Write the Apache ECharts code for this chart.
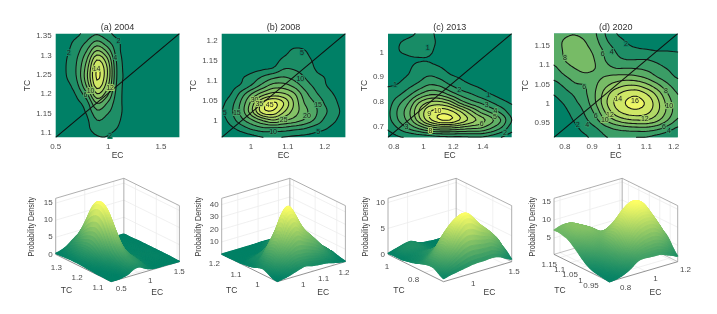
<!DOCTYPE html>
<html><head><meta charset="utf-8">
<style>html,body{margin:0;padding:0;background:#fff}#c{width:717px;height:314px}#c canvas{filter:blur(.45px)}</style>
<script src="https://cdn.jsdelivr.net/npm/echarts@6/dist/echarts.min.js"></script>
</head><body><div id="c"></div>
<script>
// ---- values ----
const titles=['(a) 2004','(b) 2008','(c) 2013','(d) 2020'];
const ecExtentA=[0.5,1.675], tcExtentA=[1.089,1.356];
const ecExtentB=[0.921,1.256], tcExtentB=[0.96,1.217];
const ecExtentC=[0.76,1.594], tcExtentC=[0.658,1.075];
const ecExtentD=[0.76,1.215], tcExtentD=[0.914,1.18];
const ecTicksA=[0.5,1,1.5], tcTicksA=[1.1,1.15,1.2,1.25,1.3,1.35];
const ecTicksB=[1,1.1,1.2], tcTicksB=[1,1.05,1.1,1.15,1.2];
const ecTicksC=[0.8,1,1.2,1.4], tcTicksC=[0.7,0.8,0.9,1];
const ecTicksD=[0.8,0.9,1,1.1,1.2], tcTicksD=[0.95,1,1.05,1.1,1.15];
const levelsA=[2,4,6,8,10,12,14,16];
const levelsB=[5,10,15,20,25,30,35,40,45];
const levelsC=[1,2,3,4,5,6,7,8,9,10];
const levelsD=[2,4,6,8,10,12,14,16];
// density: rows run from highest TC to lowest TC, columns from lowest EC to highest EC
const densityA=[
[.3,.7,1.5,2.8,3.8,2.6,1.3,.6,.3,.3,.2,.1,.1],
[.4,1.2,2.6,4.2,6.6,4.6,2.4,.9,.4,.3,.3,.2,.1],
[.5,1.6,3.2,6,10.2,7.5,2.7,1.1,.5,.3,.3,.2,.1],
[.6,1.9,3.8,7.8,13.9,10.5,3.2,1.3,.5,.4,.3,.3,.2],
[.6,2,4.1,9,16,12,3.5,1.4,.6,.4,.4,.3,.2],
[.6,1.9,4,9.4,16.3,12,3.5,1.5,.6,.4,.4,.3,.2],
[.5,1.4,3.2,8.2,15,10.8,3.2,1.5,.6,.4,.4,.4,.2],
[.4,1,2.2,5.5,11.8,8.6,2.9,1.5,.6,.5,.5,.4,.2],
[.3,.6,1.5,3.2,8.2,6,2.7,1.4,.6,.5,.5,.4,.2],
[.2,.4,1,2.3,5.6,4.4,2.7,1.2,.5,.4,.5,.4,.2],
[.2,.3,.6,1.6,4,3.4,2.4,.9,.4,.4,.4,.3,.2],
[.1,.2,.4,1.4,3.1,2.8,1.9,.6,.3,.3,.3,.2,.1],
[.1,.1,.3,.8,1.8,1.9,1,.4,.2,.2,.2,.1,.1]];
const densityB=[
[.2,.2,.2,.2,.3,.3,.4,.6,.5,.3,.2,.2,.2],
[.2,.3,.3,.3,.4,.6,1.2,2.5,2,.6,.3,.2,.2],
[.3,.4,.5,.5,.7,1.2,3,6,5.5,1.8,.6,.3,.2],
[.4,.5,.7,.8,1.2,2.5,6,7.5,7,4,1.5,.5,.2],
[.5,1,2,3,4,5.3,9.5,9.5,8,5,2.5,.8,.3],
[1,3,4.6,7,10.5,13.5,15,13,10,6.5,4.8,1.5,.5],
[1.5,3.5,6,11,17,22,22,18.5,13,9,5.5,3,.8],
[2.5,5.5,13,21,28,32,31,26,17.5,11.5,7.5,4.5,1.2],
[4,8.5,17,28,41,46,40,29.5,20,15,9.5,6,1.8],
[4.7,9.5,18,30,43,44,36,28,22,16.5,11,7,3],
[3,8,14,20,26,30,26,23,19.5,14.5,9,5.5,2],
[1,4,7.5,11,13.5,13.5,13,11.5,10,7.5,5.5,3,1],
[.3,1,2,3.5,5,6,4.8,4.2,3.8,3.2,2,1,.4]];
const densityC=[
[.2,.5,.8,1.1,1.2,.7,.3,.2,.1,.1,.1,.1,.1],
[.3,.9,1.2,1.3,1.25,.8,.4,.2,.1,.1,.1,.1,.1],
[.3,.95,1.2,1.3,1.15,.7,.4,.2,.2,.1,.1,.1,.1],
[.3,.6,.85,.95,.95,.7,.45,.3,.2,.1,.1,.1,.1],
[.5,.7,.9,1.3,1.3,1.1,.7,.5,.3,.2,.1,.1,.1],
[.7,.8,1.1,1.6,2.1,1.8,1.2,.9,.6,.4,.2,.1,.1],
[.95,1.1,1.7,2.4,3.1,2.9,2.1,1.5,1.1,.8,.5,.3,.1],
[1.3,1.8,2.7,3.9,4.8,4.7,3.7,2.7,2.1,1.5,1,.6,.3],
[1.6,2.7,4,6,7.2,7.4,6.6,4.8,3.6,2.9,2.1,1.4,.9],
[1.8,3.2,4.7,7,8.8,9.6,9.3,8,6.3,4.7,3.7,2.6,1.5],
[1.7,3,4.4,6.5,8.6,9.9,10,8.9,7.6,6.5,5.3,3.9,2],
[1.1,2,3,4,5,5.6,5.6,5.3,5,4.8,3.9,2.8,1.4],
[.6,.9,1.1,1.3,1.5,1.7,1.8,1.8,1.9,1.9,1.6,1,.5]];
const densityD=[
[7.2,7.7,7.9,7.4,6.2,3.9,2.1,1.5,1.2,1.1,1.1,1,1],
[7.3,8.2,8.8,8.1,6.7,4.5,3,2,1.5,1.5,1.5,1.5,1.5],
[7,8.2,8.9,8.5,7.5,5.5,3.9,2.8,2.4,2.2,2,2,1.9],
[6.6,8,8.8,8.6,7.9,5.9,4.6,4,4,4,3.5,3,2.9],
[5.6,7,8,8.5,8,6.8,6,6,5.9,5.5,4.7,3.9,3.3],
[4.5,5.7,6.8,7.4,7.5,8.1,8.6,8.7,8.4,7.5,6,4.8,3.8],
[3.2,4.3,5.6,6,7.7,9.6,11,12,12,10.7,8.7,6.5,5],
[2.1,3.2,4.3,5.6,8,11,13.5,15,15.5,14,11.4,8.2,6],
[1.4,2.2,3.6,5,7.8,11.5,14.5,16.1,16.6,15.6,12.7,9.3,6.6],
[1,1.6,2.8,4.3,6.6,10.3,13.3,15,15.5,14.7,12.4,9.5,6.8],
[.8,1.2,2.2,3.6,5.3,8,10.2,11.5,12,11.9,10.5,8.1,5.7],
[.6,.9,1.5,2.7,3.7,5.2,6.3,6.9,7.2,7.2,6.5,5,3.6],
[.4,.6,1,1.7,2.7,3.9,4.2,4.1,4,3.9,3.3,2.7,2]];
// contour labels: [EC, TC, text]
const labelsA=[[.624,1.305,'2'],[1.096,1.338,'2'],[1.064,1.292,'4'],[1.016,1.092,'2'],[.783,1.198,'6'],[.831,1.209,'10'],[1.016,1.215,'12'],[.888,1.264,'14']];
const labelsB=[[.929,1.021,'5'],[1.138,1.17,'5'],[1.134,1.104,'10'],[1.182,1.04,'15'],[1.152,1.012,'20'],[1.089,1.003,'25'],[1.06,.974,'10'],[1.182,.974,'5'],[1.051,1.04,'45'],[1.01,1.053,'30'],[.962,1.02,'15'],[1.023,1.043,'35']];
const labelsC=[[1.027,1.016,'1'],[.807,.869,'1'],[1.24,.849,'2'],[1.436,.826,'1'],[1.425,.788,'3'],[1.485,.764,'4'],[1.481,.739,'5'],[1.391,.711,'6'],[1.094,.764,'10'],[1.038,.752,'9'],[1.548,.677,'2'],[1.047,.684,'8'],[.885,.701,'3']];
const labelsD=[[.8,1.117,'8'],[.871,1.042,'6'],[.939,1.128,'6'],[.972,1.134,'4'],[1.025,1.153,'2'],[.996,1.013,'14'],[1.058,1.006,'16'],[1.172,1.034,'8'],[1.184,.995,'10'],[1.094,.962,'12'],[.966,.972,'12'],[.947,.957,'10'],[.913,.968,'6'],[.882,.946,'4'],[.847,.946,'2'],[1.164,.94,'6'],[1.183,.929,'4']];
// 3D panels
const zTicksA=[0,5,10,15], zExtentA=[0,16.4], ecTicks3A=[.5,1,1.5], tcTicks3A=[1.1,1.2,1.3];
const zTicksB=[10,20,30,40], zExtentB=[0,45], ecTicks3B=[1,1.1,1.2], tcTicks3B=[1,1.1,1.2];
const zTicksC=[0,5,10], zExtentC=[0,10.8], ecTicks3C=[1,1.5], tcTicks3C=[.8,1];
const zTicksD=[5,10,15], zExtentD=[.45,16], ecTicks3D=[.8,1,1.2], tcTicks3D=[.95,1,1.05,1.1,1.15];

const FONT='"Liberation Sans",Arial,sans-serif';
const TICK='#4d4d4d', NAME='#3a3a3a';
const panels=[
 {t:titles[0],ec:ecExtentA,tc:tcExtentA,ect:ecTicksA,tct:tcTicksA,z:densityA,lv:levelsA,lab:labelsA,zt:zTicksA,ze:zExtentA,e3:ecTicks3A,t3:tcTicks3A,left:55.7,nameGap:26.4,p:32,tn:10.7},
 {t:titles[1],ec:ecExtentB,tc:tcExtentB,ect:ecTicksB,tct:tcTicksB,z:densityB,lv:levelsB,lab:labelsB,zt:zTicksB,ze:zExtentB,e3:ecTicks3B,t3:tcTicks3B,left:221.7,nameGap:26.7,p:199,tn:10},
 {t:titles[2],ec:ecExtentC,tc:tcExtentC,ect:ecTicksC,tct:tcTicksC,z:densityC,lv:levelsC,lab:labelsC,zt:zTicksC,ze:zExtentC,e3:ecTicks3C,t3:tcTicks3C,left:388,nameGap:23,p:366,tn:11},
 {t:titles[3],ec:ecExtentD,tc:tcExtentD,ect:ecTicksD,tct:tcTicksD,z:densityD,lv:levelsD,lab:labelsD,zt:zTicksD,ze:zExtentD,e3:ecTicks3D,t3:tcTicks3D,left:554,nameGap:28,p:532.7,tn:6}
];
const W=123.7;
function summer(t){t=Math.max(0,Math.min(1,t));return 'rgb('+Math.round(255*t)+','+Math.round(255*(.5+.5*t))+',102)';}
function cr(a,b,c,d,t){return b+.5*t*(c-a+t*(2*a-5*b+4*c-d+t*(3*(b-c)+d-a)));}
// display refinement of the read grid so that the drawn curves are smooth
function refine(g,f){
 const R=g.length,C=g[0].length,out=[];
 const at=(r,c)=>g[Math.max(0,Math.min(R-1,r))][Math.max(0,Math.min(C-1,c))];
 for(let r=0;r<=(R-1)*f;r++){const row=[];const ri=Math.min(R-2,Math.floor(r/f)),rt=r/f-ri;
  for(let c=0;c<=(C-1)*f;c++){const ci=Math.min(C-2,Math.floor(c/f)),ct=c/f-ci;const v=[];
   for(let k=-1;k<=2;k++)v.push(cr(at(ri+k,ci-1),at(ri+k,ci),at(ri+k,ci+1),at(ri+k,ci+2),ct));
   row.push(Math.max(0,cr(v[0],v[1],v[2],v[3],rt)));}
  out.push(row);}
 return out;}
const num=v=>v.toFixed(2);
function contourItem(p){return function(params,api){
 const G=refine(p.z,4),R=G.length,C=G[0].length;
 const co=(c,r)=>api.coord([p.ec[0]+c/(C-1)*(p.ec[1]-p.ec[0]),p.tc[1]-r/(R-1)*(p.tc[1]-p.tc[0])]);
 const P=[];for(let r=0;r<R;r++){P.push([]);for(let c=0;c<C;c++)P[r].push(co(c,r));}
 const n=p.lv.length,kids=[];
 const a=P[0][0],b=P[R-1][C-1];
 kids.push({type:'rect',shape:{x:a[0],y:a[1],width:b[0]-a[0],height:b[1]-a[1]},style:{fill:summer(0)}});
 const lines=[];
 p.lv.forEach((L,i)=>{let d='',ln='';
  for(let r=0;r<R-1;r++)for(let c=0;c<C-1;c++){
   const q=[[c,r],[c+1,r],[c+1,r+1],[c,r+1]],poly=[],x=[];
   for(let k=0;k<4;k++){const s=q[k],e=q[(k+1)%4],zs=G[s[1]][s[0]],ze=G[e[1]][e[0]],ps=P[s[1]][s[0]],pe=P[e[1]][e[0]];
    if(zs>=L)poly.push(ps);
    if((zs>=L)!==(ze>=L)){const t=(L-zs)/(ze-zs),m=[ps[0]+t*(pe[0]-ps[0]),ps[1]+t*(pe[1]-ps[1])];poly.push(m);x.push(m);}}
   if(poly.length>=3){d+='M'+poly.map(m=>num(m[0])+' '+num(m[1])).join('L')+'Z';}
   for(let k=0;k+1<x.length;k+=2)ln+='M'+num(x[k][0])+' '+num(x[k][1])+'L'+num(x[k+1][0])+' '+num(x[k+1][1]);
  }
  if(d)kids.push({type:'path',shape:{pathData:d},style:{fill:summer((i+1)/(n+.6))}});
  if(ln)lines.push({type:'path',shape:{pathData:ln},style:{fill:'none',stroke:'#141414',lineWidth:1.05,lineCap:'round'}});
 });
 return {type:'group',children:kids.concat(lines)};
};}
function labelItem(p){return function(params,api){
 const kids=p.lab.map(l=>{const q=api.coord([l[0],l[1]]);const idx=p.lv.indexOf(+l[2]);
  return {type:'text',x:q[0],y:q[1],style:{text:l[2],align:'center',verticalAlign:'middle',textAlign:'center',textVerticalAlign:'middle',font:'7px '+FONT,fill:'#222',stroke:summer((idx+.5)/(p.lv.length+.6)),lineWidth:2}};});
 return {type:'group',children:kids};
};}
// normalised projection of the box on its hidden grid
const Fx=.449,Lfy=.2645,Rfy=.1935,Zh=.542;
function surfaceFns(p){
 const u=e=>(e-p.ec[0])/(p.ec[1]-p.ec[0]),v=t=>(t-p.tc[0])/(p.tc[1]-p.tc[0]);
 const pr=(uu,vv,zz)=>[Fx+uu*(1-Fx)-vv*Fx,uu*Rfy+vv*Lfy+zz*Zh];
 const zf=z=>(z-p.ze[0])/(p.ze[1]-p.ze[0]);
 return {u,v,pr,zf};}
function boxItem(p){return function(params,api){
 const {u,v,pr,zf}=surfaceFns(p);const pt=(a,b,c)=>api.coord(pr(a,b,c));
 const kids=[];
 const line=(A,B,col,w)=>kids.push({type:'line',shape:{x1:A[0],y1:A[1],x2:B[0],y2:B[1]},style:{stroke:col,lineWidth:w}});
 const GR='#ececec';
 p.e3.forEach(e=>{const a=u(e);line(pt(a,0,0),pt(a,1,0),GR,.8);line(pt(a,1,0),pt(a,1,1),GR,.8);});
 p.t3.forEach(t=>{const b=v(t);line(pt(0,b,0),pt(1,b,0),GR,.8);line(pt(1,b,0),pt(1,b,1),GR,.8);});
 p.zt.forEach(z=>{const c=zf(z);line(pt(0,1,c),pt(1,1,c),GR,.8);line(pt(1,1,c),pt(1,0,c),GR,.8);});
 const ED='#9a9a9a';
 line(pt(0,1,1),pt(1,1,1),ED,.8);line(pt(1,1,1),pt(1,0,1),ED,.8);
 line(pt(0,1,0),pt(0,1,1),ED,.8);line(pt(1,1,0),pt(1,1,1),ED,.8);line(pt(1,0,0),pt(1,0,1),ED,.8);
 line(pt(0,1,0),pt(1,1,0),ED,.6);line(pt(1,1,0),pt(1,0,0),ED,.6);
 line(pt(0,1,0),pt(0,0,0),'#777',.8);line(pt(0,0,0),pt(1,0,0),'#777',.8);
 return {type:'group',children:kids};
};}
function surfaceItem(p){return function(params,api){
 const {pr,zf}=surfaceFns(p);
 const G=refine(p.z,5),R=G.length,C=G[0].length,kids=[];let zm=0;G.forEach(r=>r.forEach(z=>{if(z>zm)zm=z;}));
 const pt=(c,r)=>api.coord(pr(c/(C-1),1-r/(R-1),zf(G[r][c])));
 for(let c=C-2;c>=0;c--)for(let r=0;r<R-1;r++){
  const col=summer((G[r][c]+G[r][c+1]+G[r+1][c]+G[r+1][c+1])/4/zm);
  kids.push({type:'polygon',shape:{points:[pt(c,r),pt(c+1,r),pt(c+1,r+1),pt(c,r+1)]},style:{fill:col,stroke:col,lineWidth:1.2,lineJoin:'round'}});}
 return {type:'group',children:kids};
};}
function textItem(p){return function(params,api){
 const {u,v,pr,zf}=surfaceFns(p);const pt=(a,b,c)=>api.coord(pr(a,b,c));
 const kids=[];
 const txt=(x,y,s,o)=>kids.push(Object.assign({type:'text',x,y,style:{text:s,align:'center',verticalAlign:'middle',textAlign:'center',textVerticalAlign:'middle',font:'8px '+FONT,fill:TICK}},o||{}));
 p.e3.forEach(e=>{const q=pt(u(e),0,0);txt(q[0]+10,q[1]+7.5,String(e));});
 p.t3.forEach(t=>{const q=pt(0,v(t),0);txt(q[0]-11,q[1]+7.5,String(t));});
 p.zt.forEach(z=>{const q=pt(0,1,zf(z));kids.push({type:'text',x:q[0]-3,y:q[1],style:{text:String(z),align:'right',verticalAlign:'middle',textAlign:'right',textVerticalAlign:'middle',font:'8px '+FONT,fill:TICK}});});
 kids.push({type:'text',x:p.left+p.tn,y:291,style:{text:'TC',align:'center',verticalAlign:'middle',textAlign:'center',textVerticalAlign:'middle',font:'8.5px '+FONT,fill:NAME}});
 kids.push({type:'text',x:p.left+101.5,y:293,style:{text:'EC',align:'center',verticalAlign:'middle',textAlign:'center',textVerticalAlign:'middle',font:'8.5px '+FONT,fill:NAME}});
 kids.push({type:'text',x:p.p,y:226.7,rotation:Math.PI/2,scaleX:.8,style:{text:'Probability Density',align:'center',verticalAlign:'middle',textAlign:'center',textVerticalAlign:'middle',font:'9px '+FONT,fill:NAME}});
 return {type:'group',children:kids};
};}
const grid=[],xAxis=[],yAxis=[],series=[],title=[];
const custom=(i,fn,z)=>({type:'custom',coordinateSystem:'cartesian2d',xAxisIndex:i,yAxisIndex:i,data:[[0,0]],renderItem:fn,silent:true,animation:false,clip:false,z:z});
panels.forEach((p,i)=>{
 grid.push({left:p.left,top:33.7,width:W,height:103.6});
 title.push({text:p.t,left:p.left+W/2,top:23.5,textAlign:'center',padding:0,textStyle:{fontFamily:FONT,fontSize:9,fontWeight:'normal',color:'#333'}});
 xAxis.push({type:'value',gridIndex:i,min:p.ec[0],max:p.ec[1],name:'EC',nameLocation:'middle',nameGap:14,nameTextStyle:{fontFamily:FONT,fontSize:8.5,color:NAME},
  axisLine:{show:false},axisTick:{show:false},splitLine:{show:false},axisLabel:{customValues:p.ect,fontFamily:FONT,fontSize:8,color:TICK,margin:5}});
 yAxis.push({type:'value',gridIndex:i,min:p.tc[0],max:p.tc[1],name:'TC',nameLocation:'middle',nameGap:p.nameGap-5,nameTextStyle:{fontFamily:FONT,fontSize:8.5,color:NAME},
  axisLine:{show:false},axisTick:{show:false},splitLine:{show:false},axisLabel:{customValues:p.tct,fontFamily:FONT,fontSize:8,color:TICK,margin:4}});
 series.push(custom(i,contourItem(p),2));
 series.push({type:'line',xAxisIndex:i,yAxisIndex:i,data:[[p.ec[0],p.tc[0]],[p.ec[1],p.tc[1]]],showSymbol:false,silent:true,animation:false,lineStyle:{color:'#101010',width:1.1},z:3});
 series.push(custom(i,labelItem(p),4));
});
panels.forEach((p,k)=>{
 const i=k+4;
 grid.push({left:p.left,top:178.3,width:W,height:103.4});
 xAxis.push({type:'value',gridIndex:i,min:0,max:1,show:false});
 yAxis.push({type:'value',gridIndex:i,min:0,max:1,show:false});
 series.push(custom(i,boxItem(p),1));
 series.push(custom(i,surfaceItem(p),2));
 series.push(custom(i,textItem(p),3));
});
const chart=echarts.init(document.getElementById('c'),null,{renderer:'canvas',width:717,height:314});
chart.setOption({animation:false,backgroundColor:'#fff',title,grid,xAxis,yAxis,series});
</script></body></html>
